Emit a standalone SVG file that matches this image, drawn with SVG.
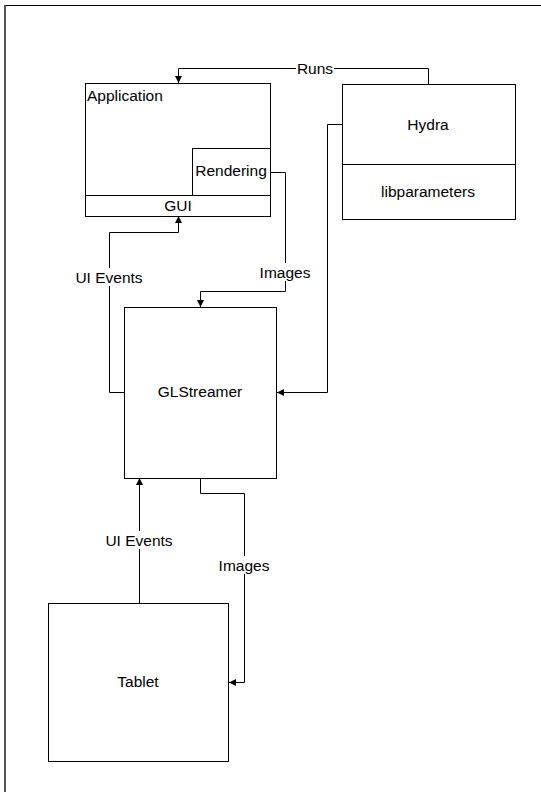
<svg xmlns="http://www.w3.org/2000/svg" width="541" height="792" viewBox="0 0 541 792">
<defs>
<style>
.box{fill:#fff;stroke:#000;stroke-width:1}
.t{font-family:"Liberation Sans",Arial,sans-serif;font-size:15.5px;fill:#000}
.c{text-anchor:middle}
.ln{fill:none;stroke:#000;stroke-width:1}
.lb{fill:#fff}
</style>
<marker id="ah" viewBox="0 0 10 10" refX="10" refY="5" markerWidth="7" markerHeight="7" markerUnits="userSpaceOnUse" orient="auto">
<path d="M0,0 L10,5 L0,10 z" fill="#000"/>
</marker>
</defs>
<rect width="541" height="792" fill="#fff"/>
<g id="frame">
<line x1="5" y1="5.5" x2="541" y2="5.5" stroke="#000" stroke-width="1"/>
<line x1="5" y1="5" x2="5" y2="792" stroke="#555" stroke-width="2"/>
</g>
<g id="application">
<rect class="box" x="85.5" y="83.5" width="185" height="133"/>
<text class="t" x="87" y="101">Application</text>
</g>
<g id="rendering">
<rect class="box" x="192.5" y="148.5" width="78" height="47"/>
<text class="t c" x="231" y="176">Rendering</text>
</g>
<g id="gui">
<rect class="box" x="85.5" y="195.5" width="185" height="21"/>
<text class="t c" x="178" y="211">GUI</text>
</g>
<g id="hydra">
<rect class="box" x="342.5" y="84.5" width="173" height="80"/>
<text class="t c" x="428" y="130">Hydra</text>
</g>
<g id="libparameters">
<rect class="box" x="342.5" y="164.5" width="173" height="55"/>
<text class="t c" x="428" y="197">libparameters</text>
</g>
<g id="glstreamer">
<rect class="box" x="124.5" y="307.5" width="152" height="171"/>
<text class="t c" x="200" y="397">GLStreamer</text>
</g>
<g id="tablet">
<rect class="box" x="48.5" y="603.5" width="180" height="158"/>
<text class="t c" x="138" y="687">Tablet</text>
</g>
<g id="connectors">
<path class="ln" d="M428.5,84 V68.5 H178.5 V83" marker-end="url(#ah)"/>
<rect class="lb" x="296" y="60" width="38" height="16"/>
<text class="t c" x="315" y="74">Runs</text>
<path class="ln" d="M342,124.5 H327.5 V392.5 H277" marker-end="url(#ah)"/>
<path class="ln" d="M270,172.5 H285.5 V291.5 H200.5 V307" marker-end="url(#ah)"/>
<rect class="lb" x="259" y="263" width="52" height="18"/>
<text class="t c" x="285" y="278">Images</text>
<path class="ln" d="M124,392.5 H109.5 V232.5 H178.5 V216" marker-end="url(#ah)"/>
<rect class="lb" x="73" y="268" width="72" height="18"/>
<text class="t c" x="109" y="283">UI Events</text>
<path class="ln" d="M139.5,603 V478" marker-end="url(#ah)"/>
<rect class="lb" x="103" y="531" width="72" height="18"/>
<text class="t c" x="139" y="546">UI Events</text>
<path class="ln" d="M200.5,478 V493.5 H244.5 V682.5 H229" marker-end="url(#ah)"/>
<rect class="lb" x="218" y="556" width="52" height="18"/>
<text class="t c" x="244" y="571">Images</text>
</g>
</svg>
